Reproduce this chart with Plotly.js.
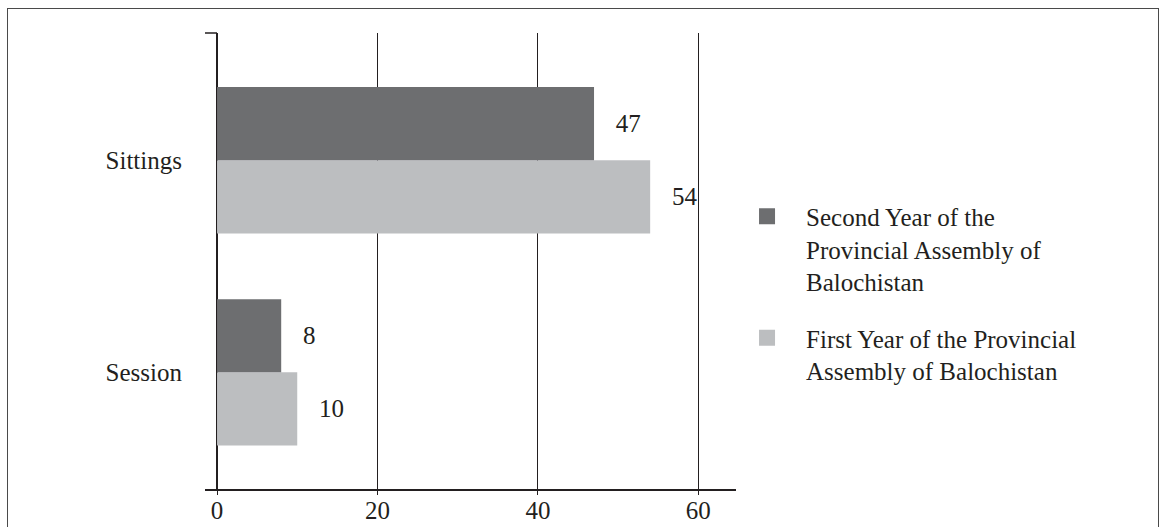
<!DOCTYPE html>
<html>
<head>
<meta charset="utf-8">
<script src="https://cdn.plot.ly/plotly-3.0.1.min.js"></script>
<style>
  html, body { margin: 0; padding: 0; background: #ffffff; }
  #wrap { position: relative; width: 1169px; height: 527px; overflow: hidden; }
  #chart { position: absolute; left: 0; top: 0; width: 1169px; height: 527px; }
  #frame { position: absolute; left: 7px; top: 8px; width: 1152px; height: 540px;
           border: 1.5px solid #4a4a4a; box-sizing: border-box; pointer-events: none; }
</style>
</head>
<body>
<div id="wrap">
  <div id="chart"></div>
  <div id="frame"></div>
</div>
<script>
// ---- data ----
const categories = ["Session", "Sittings"];
const firstYearValues = [10, 54];
const secondYearValues = [8, 47];
const seriesNames = [
  "Second Year of the<br>Provincial Assembly of<br>Balochistan",
  "First Year of the Provincial<br>Assembly of Balochistan"
];
const xTickValues = [0, 20, 40, 60];
const xTickLabels = ["0", "20", "40", "60"];

// ---- styles ----
const DARK = "#6d6e70";
const LIGHT = "#bcbec0";
const INK = "#231f20";
const FONT = "Liberation Serif, Times New Roman, serif";
const pad = "\u00a0\u00a0\u00a0";

const traces = [
  {
    type: "bar", orientation: "h", name: seriesNames[1],
    y: categories, x: firstYearValues,
    text: firstYearValues.map(v => pad + v),
    textposition: "outside", cliponaxis: false, constraintext: "none",
    textfont: { family: FONT, size: 25, color: INK },
    marker: { color: LIGHT, line: { width: 0 } },
    showlegend: false, hoverinfo: "skip"
  },
  {
    type: "bar", orientation: "h", name: seriesNames[0],
    y: categories, x: secondYearValues,
    text: secondYearValues.map(v => pad + v),
    textposition: "outside", cliponaxis: false, constraintext: "none",
    textfont: { family: FONT, size: 25, color: INK },
    marker: { color: DARK, line: { width: 0 } },
    showlegend: false, hoverinfo: "skip"
  },
  // legend entries (no points)
  {
    type: "scatter", mode: "markers", name: seriesNames[0],
    x: [null], y: [null], legendgroup: "a",
    marker: { symbol: "square", size: 16, color: DARK, line: { width: 0 } },
    hoverinfo: "skip"
  },
  {
    type: "scatter", mode: "markers", name: seriesNames[1],
    x: [null], y: [null], legendgroup: "b",
    marker: { symbol: "square", size: 16, color: LIGHT, line: { width: 0 } },
    hoverinfo: "skip"
  }
];

const layout = {
  width: 1169, height: 527,
  margin: { l: 205, r: 433, t: 33, b: 38, pad: 0 },
  paper_bgcolor: "rgba(0,0,0,0)", plot_bgcolor: "rgba(0,0,0,0)",
  font: { family: FONT, size: 25, color: INK },
  barmode: "group", bargap: 0.31, bargroupgap: 0,
  showlegend: true,
  legend: {
    x: 0.985, xanchor: "left", y: 0.648, yanchor: "top",
    valign: "top", traceorder: "grouped", tracegroupgap: 21,
    itemwidth: 68,
    font: { family: FONT, size: 25, color: INK },
    bgcolor: "rgba(0,0,0,0)", borderwidth: 0
  },
  xaxis: {
    range: [-1.5, 64.7], fixedrange: true,
    tickmode: "array", tickvals: xTickValues, ticktext: xTickLabels,
    ticks: "outside", ticklen: 4, tickwidth: 1, tickcolor: INK,
    ticklabelstandoff: -6,
    showgrid: true, gridcolor: INK, gridwidth: 1,
    zeroline: true, zerolinecolor: INK, zerolinewidth: 1.5,
    showline: true, linecolor: INK, linewidth: 1.5,
    tickfont: { family: FONT, size: 25, color: INK }
  },
  yaxis: {
    type: "category", categoryorder: "array", categoryarray: categories,
    range: [-0.55, 1.6], fixedrange: true,
    showgrid: false, zeroline: false, showline: false, ticks: "",
    ticklabelstandoff: 22,
    tickfont: { family: FONT, size: 25, color: INK }
  },
  shapes: [
    { type: "line", xref: "x", yref: "paper", x0: -1.5, x1: 0, y0: 1, y1: 1,
      line: { color: INK, width: 1.5 } }
  ]
};

Plotly.newPlot("chart", traces, layout, { displayModeBar: false, staticPlot: true });
</script>
</body>
</html>
